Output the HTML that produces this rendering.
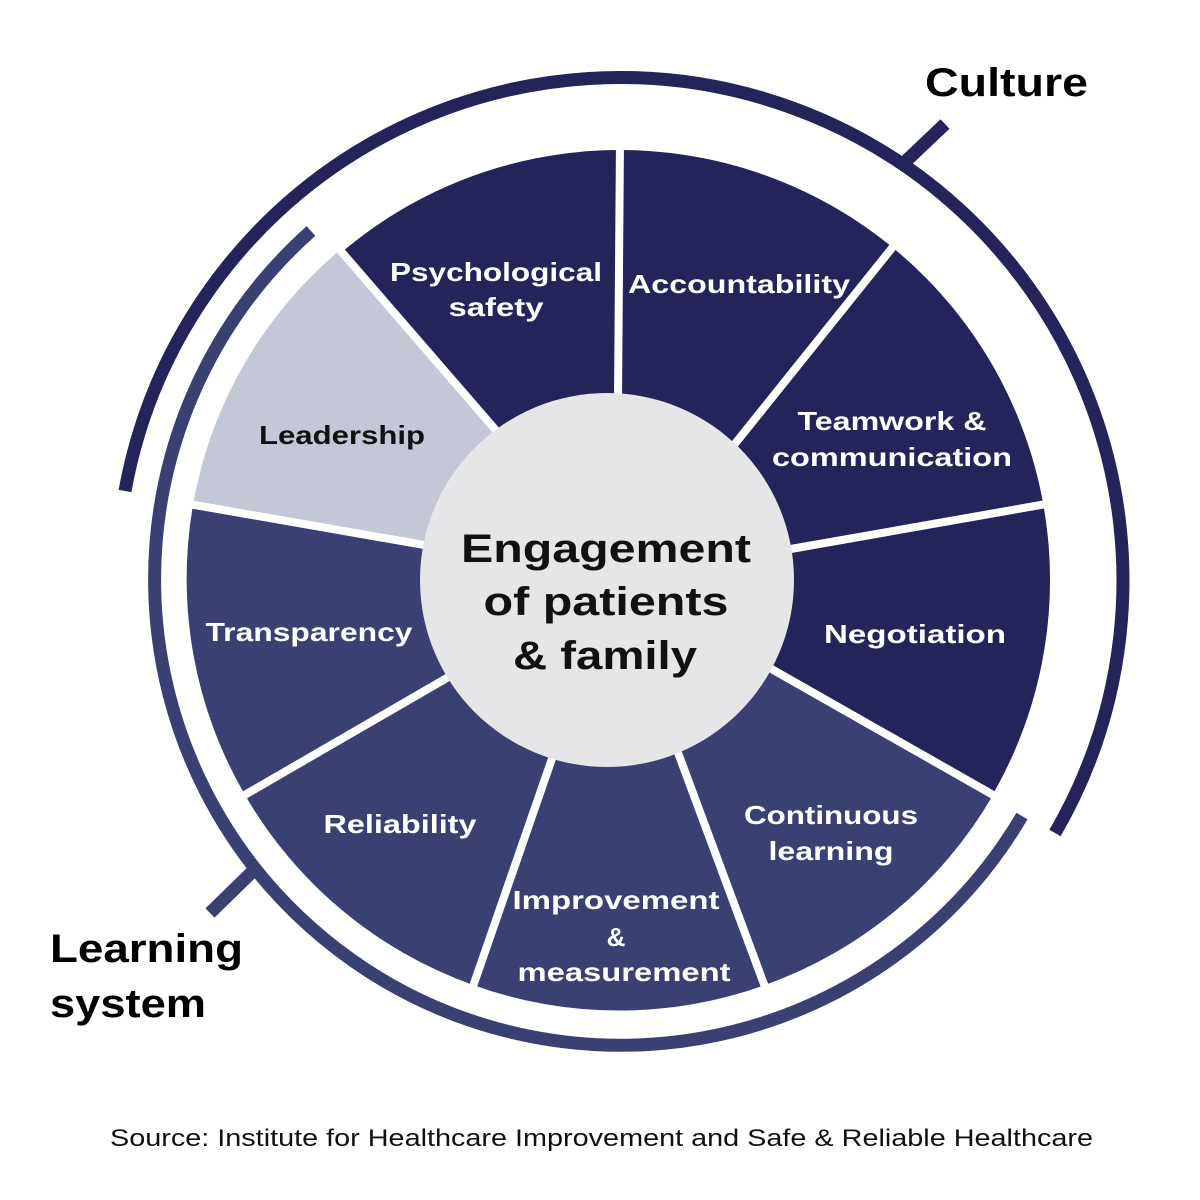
<!DOCTYPE html>
<html><head><meta charset="utf-8"><style>
html,body{margin:0;padding:0;background:#fff;}
svg{display:block;}
text{font-family:"Liberation Sans",sans-serif;font-weight:bold;}
</style></head><body>
<svg width="1200" height="1200" viewBox="0 0 1200 1200">
<rect width="1200" height="1200" fill="#fff"/>
<!-- outer arcs -->
<path d="M125 491 A503 503 0 1 1 1055 833" fill="none" stroke="#25245a" stroke-width="13"/>
<line x1="905" y1="162" x2="945" y2="124" stroke="#25245a" stroke-width="13"/>
<path d="M311 231 A466 466 0 1 0 1022 816" fill="none" stroke="#3a4172" stroke-width="13"/>
<line x1="252" y1="872" x2="210" y2="913" stroke="#3a4172" stroke-width="13"/>
<!-- wheel -->
<circle cx="620" cy="580" r="430" fill="#25245a"/>
<path d="M768 667 L993 795 A430 430 0 0 1 765 985 A430 430 0 0 1 473 985 A430 430 0 0 1 245 795 A430 430 0 0 1 193 505 L430 546 Z" fill="#3a4172"/>
<path d="M430 546 L193 505 A430 430 0 0 1 340 250 L500 435 Z" fill="#c3c7d6"/>
<g stroke="#fff" stroke-width="8">
<line x1="618" y1="400" x2="620" y2="140"/>
<line x1="730" y1="450" x2="900" y2="238"/>
<line x1="785" y1="550" x2="1052" y2="503"/>
<line x1="768" y1="667" x2="1002" y2="800"/>
<line x1="677" y1="750" x2="768" y2="995"/>
<line x1="555" y1="750" x2="470" y2="995"/>
<line x1="452" y1="675" x2="236" y2="800"/>
<line x1="430" y1="546" x2="183" y2="503"/>
<line x1="500" y1="435" x2="333" y2="242"/>
</g>
<circle cx="607" cy="580" r="187" fill="#e6e6e8"/>
<!-- labels -->
<g fill="#fff" font-size="26" text-anchor="middle">
<text x="496" y="281" textLength="212" lengthAdjust="spacingAndGlyphs">Psychological</text>
<text x="496" y="316" textLength="95" lengthAdjust="spacingAndGlyphs">safety</text>
<text x="739" y="293" textLength="222" lengthAdjust="spacingAndGlyphs">Accountability</text>
<text x="892" y="430" textLength="189" lengthAdjust="spacingAndGlyphs">Teamwork &amp;</text>
<text x="892" y="466" textLength="240" lengthAdjust="spacingAndGlyphs">communication</text>
<text x="915" y="643" textLength="182" lengthAdjust="spacingAndGlyphs">Negotiation</text>
<text x="831" y="824" textLength="174" lengthAdjust="spacingAndGlyphs">Continuous</text>
<text x="831" y="860" textLength="125" lengthAdjust="spacingAndGlyphs">learning</text>
<text x="616" y="909" textLength="207" lengthAdjust="spacingAndGlyphs">Improvement</text>
<text x="616" y="946">&amp;</text>
<text x="624" y="981" textLength="213" lengthAdjust="spacingAndGlyphs">measurement</text>
<text x="400" y="833" textLength="153" lengthAdjust="spacingAndGlyphs">Reliability</text>
<text x="309" y="641" textLength="207" lengthAdjust="spacingAndGlyphs">Transparency</text>
</g>
<text x="342" y="444" font-size="26" fill="#111" text-anchor="middle" textLength="166" lengthAdjust="spacingAndGlyphs">Leadership</text>
<g fill="#111" font-size="40" text-anchor="middle">
<text x="606" y="562" textLength="290" lengthAdjust="spacingAndGlyphs">Engagement</text>
<text x="606" y="615" textLength="245" lengthAdjust="spacingAndGlyphs">of patients</text>
<text x="605" y="669" textLength="184" lengthAdjust="spacingAndGlyphs">&amp; family</text>
</g>
<g fill="#000" font-size="40">
<text x="925" y="96" textLength="163" lengthAdjust="spacingAndGlyphs">Culture</text>
<text x="50" y="962" textLength="193" lengthAdjust="spacingAndGlyphs">Learning</text>
<text x="50" y="1017" textLength="156" lengthAdjust="spacingAndGlyphs">system</text>
</g>
<text x="110" y="1146" font-size="24" style="font-weight:normal" fill="#111" textLength="983" lengthAdjust="spacingAndGlyphs">Source: Institute for Healthcare Improvement and Safe &amp; Reliable Healthcare</text>
</svg>
</body></html>
